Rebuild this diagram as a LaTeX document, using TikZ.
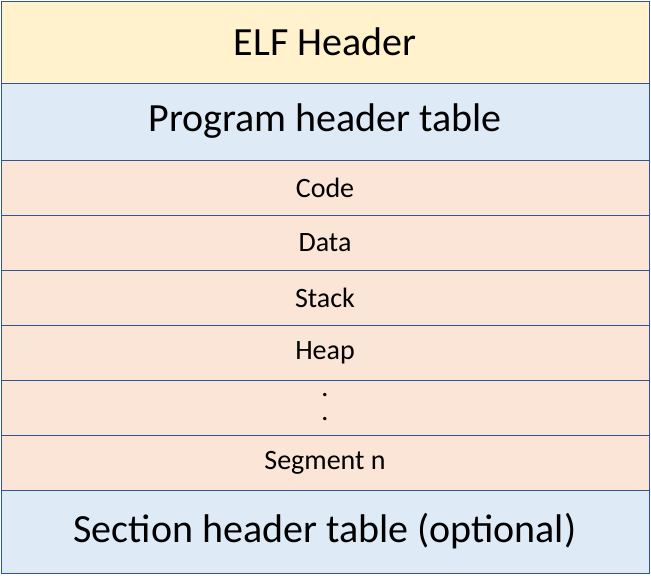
\documentclass[tikz,border=0pt]{standalone}
\usepackage{fontspec}
\setmainfont{Carlito}
\usetikzlibrary{positioning}
\definecolor{hdryellow}{HTML}{FFF2CC}
\definecolor{hdrblue}{HTML}{DEEBF7}
\definecolor{segpeach}{HTML}{FBE5D6}
\definecolor{edgeblue}{HTML}{2F5597}
\tikzset{
    cell/.style={draw=edgeblue,thick,minimum width=648pt,inner sep=0pt,outer sep=0pt,anchor=north},
    bigcell/.style={cell,font=\fontsize{40}{44}\selectfont},
    segcell/.style={cell,fill=segpeach,minimum height=55pt,font=\fontsize{28}{30}\selectfont}
}
\begin{document}
\begin{tikzpicture}[x=1pt,y=-1pt]
    \useasboundingbox (0,0) rectangle (651,579);
    \node[bigcell,fill=hdryellow,minimum height=82pt] (elf) at (325,1) {ELF Header};
    \node[bigcell,fill=hdrblue,minimum height=77pt,below=0pt of elf] (pht) {Program header table};
    \node[segcell,below=0pt of pht] (code) {Code};
    \node[segcell,below=0pt of code] (data) {Data};
    \node[segcell,below=0pt of data] (stack) {Stack};
    \node[segcell,below=0pt of stack] (heap) {Heap};
    \node[segcell,below=0pt of heap,align=center,font=\fontsize{28}{24}\selectfont] (dots) {.\\.};
    \node[segcell,below=0pt of dots] (segn) {Segment n};
    \node[bigcell,fill=hdrblue,minimum height=83pt,below=0pt of segn] (sht) {Section header table (optional)};
\end{tikzpicture}
\end{document}
